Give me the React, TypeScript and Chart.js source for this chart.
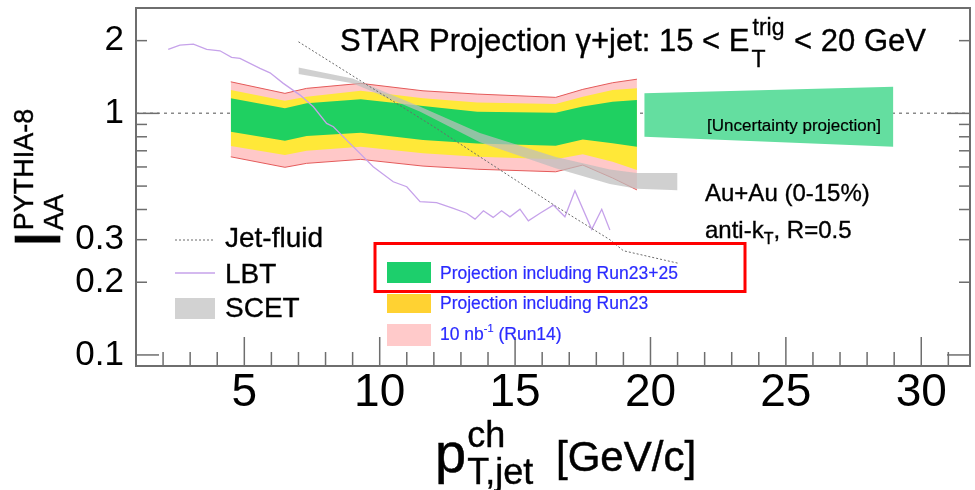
import React, { useEffect, useRef } from 'react';
import { Chart, registerables } from 'chart.js';

Chart.register(...registerables);

const FONT = '"Liberation Sans", Arimo, Arial, Helvetica, sans-serif';

// axis ranges
const X_MIN = 1;
const X_MAX = 31.8;
const Y_MIN = 0.09;
const Y_MAX = 2.73;

// tick definitions
const X_LABEL_TICKS = [5, 10, 15, 20, 25, 30];
const X_MINOR_TICKS = [2, 3, 4, 5, 6, 7, 8, 9, 10, 11, 12, 13, 14, 15, 16, 17, 18, 19, 20, 21, 22, 23, 24, 25, 26, 27, 28, 29, 30, 31];
const Y_LABEL_TICKS = [0.1, 0.2, 0.3, 1, 2];
const Y_LABELS = ['0.1', '0.2', '0.3', '1', '2'];
const Y_MINOR_TICKS = [0.1, 0.2, 0.3, 0.4, 0.5, 0.6, 0.7, 0.8, 0.9, 1, 2];
const Y_MAJOR_TICKS = [0.1, 1];

// projection bands (pT,jet knots)
const BAND_X = [4.5, 6.5, 7.3, 9.3, 11.6, 13.6, 16.5, 17.5, 18.6, 19.5];
const PINK_HI = [1.351, 1.21, 1.269, 1.331, 1.24, 1.202, 1.165, 1.257, 1.339, 1.385];
const YELLOW_HI = [1.248, 1.128, 1.171, 1.24, 1.154, 1.11, 1.093, 1.171, 1.248, 1.272];
const GREEN_HI = [1.154, 1.049, 1.1, 1.143, 1.072, 1.015, 1.006, 1.068, 1.117, 1.137];
const GREEN_LO = [0.839, 0.77, 0.806, 0.831, 0.775, 0.751, 0.734, 0.78, 0.752, 0.727];
const YELLOW_LO = [0.732, 0.672, 0.7, 0.727, 0.683, 0.661, 0.645, 0.677, 0.631, 0.583];
const PINK_LO = [0.661, 0.598, 0.621, 0.645, 0.605, 0.587, 0.573, 0.611, 0.54, 0.482];

// uncertainty projection
const PROJ_X = [19.77, 28.97];
const PROJ_HI = [1.21, 1.289];
const PROJ_LO = [0.8, 0.727];

// SCET band
const SCET_X = [7.0, 9.0, 11.5, 13.7, 16.5, 18.5, 19.5, 21.0];
const SCET_HI = [1.55, 1.395, 1.065, 0.83, 0.66, 0.585, 0.566, 0.566];
const SCET_LO = [1.454, 1.331, 1.015, 0.76, 0.592, 0.51, 0.487, 0.48];

// Jet-fluid
const JF_X = [7.0, 12.0, 16.5, 18.5, 19.0, 21.0];
const JF_Y = [1.978, 0.88, 0.413, 0.3, 0.27, 0.24];

// LBT
const LBT_X = [2.19, 2.62, 3.12, 3.61, 4.1, 4.53, 4.84, 5.58, 5.95, 6.44, 7.06, 7.55, 8.04, 8.29, 8.78, 9.27, 9.76, 10.5, 11.0, 11.49, 12.1, 12.72, 13.21, 13.52, 13.83, 14.19, 14.5, 14.81, 15.18, 15.49, 15.92, 16.41, 16.84, 17.21, 17.83, 18.2, 18.5];
const LBT_Y = [1.84, 1.917, 1.936, 1.84, 1.816, 1.705, 1.689, 1.535, 1.472, 1.331, 1.19, 1.065, 0.909, 0.88, 0.775, 0.683, 0.601, 0.521, 0.497, 0.431, 0.427, 0.404, 0.386, 0.365, 0.395, 0.371, 0.395, 0.373, 0.401, 0.359, 0.386, 0.417, 0.373, 0.478, 0.331, 0.401, 0.329];

const C_PINK = '#ffc8c8';
const C_PINK_EDGE = '#e45a5a';
const C_YELLOW = '#ffe838';
const C_GREEN = '#1fd061';
const C_PROJ = '#64dea0';
const C_SCET = 'rgba(190,190,190,0.72)';
const C_LBT = '#c6a2ea';
const C_JF = '#6a6a6a';
const C_AXIS = '#6e6e6e';
const C_BLUE = '#2b2bff';

function font(size: number) {
  return `${size}px ${FONT}`;
}

function text(ctx: any, s: string, x: number, y: number, weight = 0.35) {
  ctx.fillText(s, x, y);
  if (weight > 0) {
    ctx.lineWidth = weight;
    ctx.strokeStyle = ctx.fillStyle;
    ctx.strokeText(s, x, y);
  }
}

const overlayPlugin = {
  id: 'overlay',
  afterDatasetsDraw(chart: any) {
    const { ctx, chartArea: a, scales } = chart;
    const x = scales.x;
    const y = scales.y;
    ctx.save();
    ctx.strokeStyle = C_AXIS;
    ctx.lineWidth = 1.5;
    const seg = (x1: number, y1: number, x2: number, y2: number) => {
      ctx.beginPath();
      ctx.moveTo(x1, y1);
      ctx.lineTo(x2, y2);
      ctx.stroke();
    };
    X_MINOR_TICKS.forEach((v) => {
      const px = x.getPixelForValue(v);
      const len = X_LABEL_TICKS.includes(v) ? 29 : 14;
      seg(px, a.bottom, px, a.bottom - len);
    });
    Y_MINOR_TICKS.forEach((v) => {
      const py = y.getPixelForValue(v);
      const len = Y_MAJOR_TICKS.includes(v) ? 23 : 11;
      seg(a.left, py, a.left + len, py);
      seg(a.right, py, a.right - len, py);
    });
    ctx.lineWidth = 2;
    ctx.strokeRect(a.left, a.top, a.right - a.left, a.bottom - a.top);
    ctx.restore();
  },
  afterDraw(chart: any) {
    const { ctx } = chart;
    ctx.save();
    ctx.textAlign = 'left';
    ctx.textBaseline = 'alphabetic';
    ctx.fillStyle = '#000';

    // title
    ctx.font = font(31);
    const t1 = 'STAR Projection γ+jet: 15 < E';
    text(ctx, t1, 340, 51);
    let cx = 340 + ctx.measureText(t1).width;
    ctx.font = font(23);
    const wTrig = ctx.measureText('trig').width;
    const wT = ctx.measureText('T').width;
    text(ctx, 'trig', cx + 3, 35);
    text(ctx, 'T', cx + 2, 67);
    cx += Math.max(wTrig, wT) + 4;
    ctx.font = font(31);
    text(ctx, ' < 20 GeV', cx, 51);

    // uncertainty text
    ctx.font = font(17);
    ctx.textAlign = 'center';
    text(ctx, '[Uncertainty projection]', 794, 131, 0.2);
    ctx.textAlign = 'left';

    // Au+Au text
    ctx.font = font(24);
    text(ctx, 'Au+Au (0-15%)', 705, 201);
    text(ctx, 'anti-k', 705, 238);
    let ax = 705 + ctx.measureText('anti-k').width;
    ctx.font = font(16);
    text(ctx, 'T', ax, 244);
    ax += ctx.measureText('T').width;
    ctx.font = font(24);
    text(ctx, ', R=0.5', ax, 238);

    // left legend
    ctx.font = font(28);
    text(ctx, 'Jet-fluid', 225, 247);
    text(ctx, 'LBT', 225, 283);
    text(ctx, 'SCET', 225, 317);
    ctx.strokeStyle = C_JF;
    ctx.lineWidth = 1;
    ctx.setLineDash([2, 2]);
    ctx.beginPath();
    ctx.moveTo(175, 240);
    ctx.lineTo(215, 240);
    ctx.stroke();
    ctx.setLineDash([]);
    ctx.strokeStyle = C_LBT;
    ctx.lineWidth = 1.3;
    ctx.beginPath();
    ctx.moveTo(175, 273);
    ctx.lineTo(215, 273);
    ctx.stroke();
    ctx.fillStyle = 'rgb(210,210,210)';
    ctx.fillRect(175, 298, 40, 21);

    // right legend
    ctx.strokeStyle = '#ff0000';
    ctx.lineWidth = 3;
    ctx.strokeRect(375, 243.5, 370, 48);
    ctx.fillStyle = '#1dcf6c';
    ctx.fillRect(387, 262, 44, 21);
    ctx.fillStyle = '#ffd232';
    ctx.fillRect(387, 294, 44, 19);
    ctx.fillStyle = '#ffcaca';
    ctx.fillRect(387, 324, 44, 22);
    ctx.fillStyle = C_BLUE;
    ctx.font = font(17.5);
    text(ctx, 'Projection including Run23+25', 440, 279, 0.2);
    text(ctx, 'Projection including Run23', 440, 309, 0.2);
    text(ctx, '10 nb', 440, 340, 0.2);
    let bx = 440 + ctx.measureText('10 nb').width;
    ctx.font = font(11);
    text(ctx, '-1', bx, 332, 0.15);
    bx += ctx.measureText('-1').width;
    ctx.font = font(17.5);
    text(ctx, ' (Run14)', bx, 340, 0.2);

    // x-axis title
    ctx.fillStyle = '#000';
    ctx.font = font(56);
    text(ctx, 'p', 435, 472, 0.5);
    let px = 435 + ctx.measureText('p').width + 1;
    ctx.font = font(36);
    const wch = ctx.measureText('ch').width;
    const wtj = ctx.measureText('T,jet').width;
    text(ctx, 'ch', px, 447, 0.4);
    text(ctx, 'T,jet', px, 484, 0.4);
    px += Math.max(wch, wtj) + 16;
    ctx.font = font(42);
    text(ctx, '[GeV/c]', Math.max(px, 556), 471, 0.5);

    // y-axis title (rotated)
    ctx.save();
    ctx.translate(60, 248);
    ctx.rotate(-Math.PI / 2);
    ctx.font = font(64);
    text(ctx, 'I', 0, 0, 0.6);
    const wi = ctx.measureText('I').width;
    ctx.font = font(27);
    text(ctx, 'AA', wi, 3, 0.4);
    text(ctx, 'PYTHIA-8', wi, -27, 0.4);
    ctx.restore();

    ctx.restore();
  },
};

export default function App() {
  const ref = useRef<HTMLCanvasElement>(null);

  useEffect(() => {
    const canvas = ref.current;
    if (!canvas) return;
    const pts = (xs: number[], ys: number[]) => xs.map((xv, i) => ({ x: xv, y: ys[i] }));
    const ds = (data: any[], extra: any) => ({
      data,
      pointRadius: 0,
      borderWidth: 0,
      borderColor: 'rgba(0,0,0,0)',
      tension: 0,
      fill: false,
      ...extra,
    });
    const datasets = [
      ds(pts([X_MIN, X_MAX], [1, 1]), { borderColor: '#8a8a8a', borderWidth: 1.5, borderDash: [3, 4], order: 100 }), // 0
      ds(pts(BAND_X, PINK_HI), { borderColor: C_PINK_EDGE, borderWidth: 1, backgroundColor: C_PINK, fill: 2, order: 91 }), // 1
      ds(pts(BAND_X, PINK_LO), { borderColor: C_PINK_EDGE, borderWidth: 1, order: 90 }), // 2
      ds(pts(BAND_X, YELLOW_HI), { backgroundColor: C_YELLOW, fill: 4, order: 81 }), // 3
      ds(pts(BAND_X, YELLOW_LO), { order: 80 }), // 4
      ds(pts(BAND_X, GREEN_HI), { backgroundColor: C_GREEN, fill: 6, order: 71 }), // 5
      ds(pts(BAND_X, GREEN_LO), { order: 70 }), // 6
      ds(pts(PROJ_X, PROJ_HI), { backgroundColor: C_PROJ, fill: 8, order: 61 }), // 7
      ds(pts(PROJ_X, PROJ_LO), { order: 60 }), // 8
      ds(pts(LBT_X, LBT_Y), { borderColor: C_LBT, borderWidth: 1.3, order: 50 }), // 9
      ds(pts(SCET_X, SCET_HI), { backgroundColor: C_SCET, fill: 11, order: 41 }), // 10
      ds(pts(SCET_X, SCET_LO), { order: 40 }), // 11
      ds(pts(JF_X, JF_Y), { borderColor: C_JF, borderWidth: 1, borderDash: [2, 2], order: 30 }), // 12
    ];

    const chart = new Chart(canvas, {
      type: 'line',
      data: { datasets },
      options: {
        responsive: false,
        animation: false,
        devicePixelRatio: 1,
        layout: { padding: { left: 0, right: 5, top: 8, bottom: 0 } },
        plugins: { legend: { display: false }, tooltip: { enabled: false } },
        scales: {
          x: {
            type: 'linear',
            position: 'bottom',
            min: X_MIN,
            max: X_MAX,
            grid: { display: false, drawTicks: false },
            border: { display: false },
            afterBuildTicks: (s: any) => {
              s.ticks = X_LABEL_TICKS.map((v) => ({ value: v }));
            },
            afterFit: (s: any) => {
              s.height = 124;
              s.paddingLeft = 0;
              s.paddingRight = 0;
            },
            ticks: {
              autoSkip: false,
              maxRotation: 0,
              padding: 4,
              color: '#000',
              font: { family: FONT, size: 46, lineHeight: 1 },
              callback: (v: any) => String(v),
            },
          },
          y: {
            type: 'logarithmic',
            min: Y_MIN,
            max: Y_MAX,
            grid: { display: false, drawTicks: false },
            border: { display: false },
            afterBuildTicks: (s: any) => {
              s.ticks = Y_LABEL_TICKS.map((v) => ({ value: v }));
            },
            afterFit: (s: any) => {
              s.width = 136;
              s.paddingTop = 0;
              s.paddingBottom = 0;
            },
            ticks: {
              autoSkip: false,
              padding: 12,
              color: '#000',
              font: { family: FONT, size: 35, lineHeight: 1 },
              callback: (_v: any, i: number) => Y_LABELS[i],
            },
          },
        },
      } as any,
      plugins: [overlayPlugin],
    });
    return () => chart.destroy();
  }, []);

  return (
    <div style={{ position: 'fixed', left: 0, top: 0, width: 975, height: 490, background: '#fff' }}>
      <canvas ref={ref} width={975} height={490} style={{ width: 975, height: 490, display: 'block' }} />
    </div>
  );
}
